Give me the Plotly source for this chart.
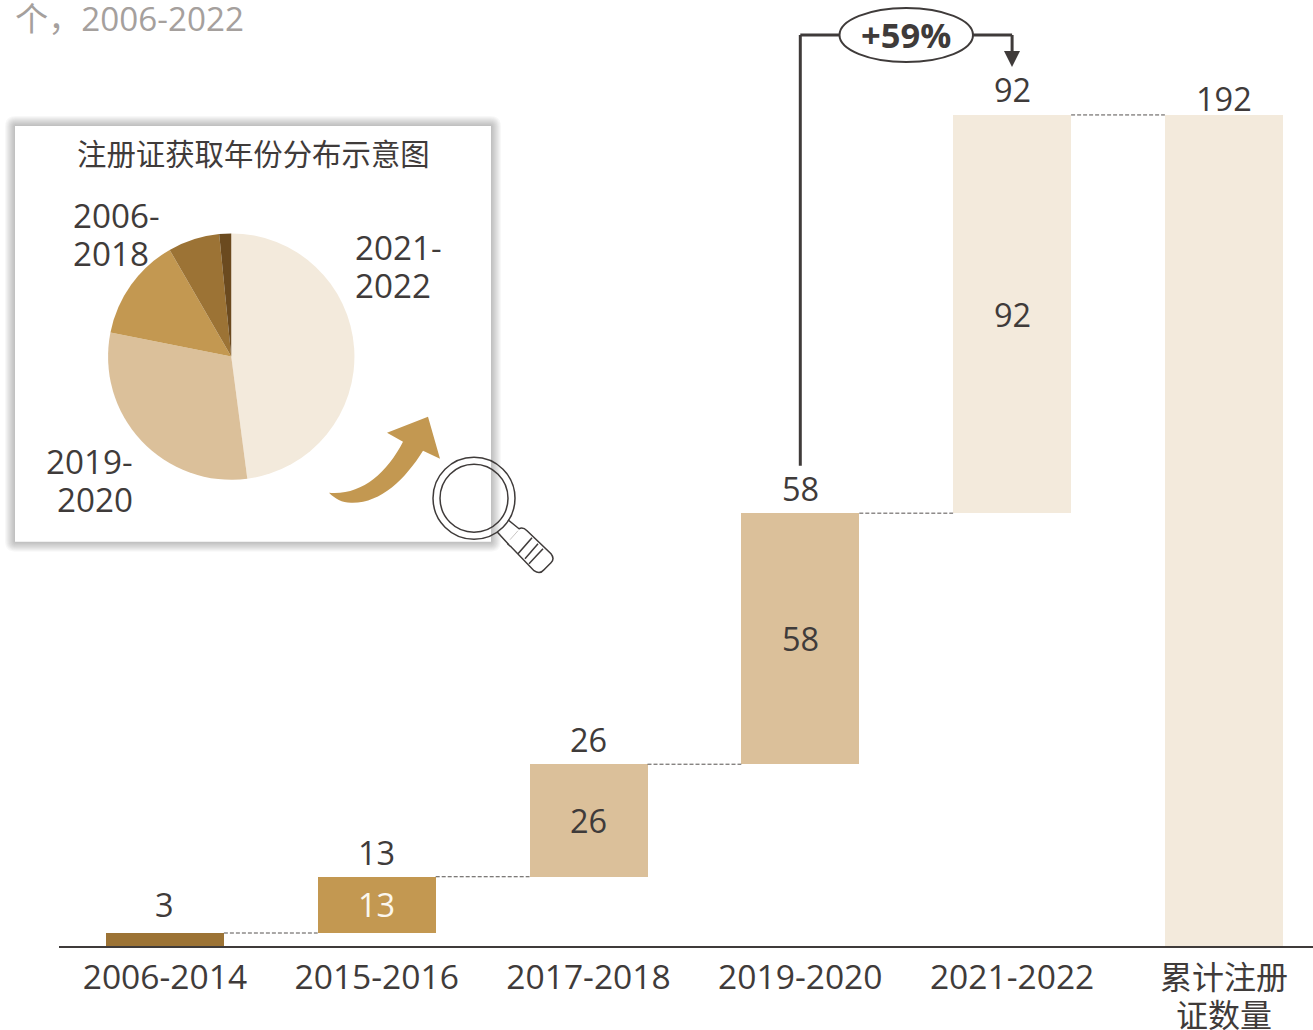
import plotly.graph_objects as go

# Waterfall data: certificates obtained per period and the running total
categories = ["2006-2014", "2015-2016", "2017-2018", "2019-2020", "2021-2022", "累计注册"]
period_values = [3, 13, 26, 58, 92]
total_value = 192
bar_colors = ["#9C7335", "#C39851", "#DBC09A", "#DBC09A", "#F3EADC", "#F3EADC"]

# Inset pie: same periods plus the small earliest slice, clockwise from 12 o'clock
pie_labels = ["2021-2022", "2019-2020", "2017-2018", "2015-2016", "2006-2014"]
pie_values = [92, 58, 26, 13, 3]
pie_colors = ["#F3EADC", "#DBC09A", "#C39851", "#9C7335", "#6B4A1F"]

INK = "#3F3B3A"
GREY = "#A5A09D"
FONT = "Open Sans, Noto Sans CJK SC, sans-serif"
CJK = "Noto Sans CJK SC, sans-serif"
SIZE = 32.5
TICK_SIZE = 33.6
LABEL_SIZE = 33.2

# Layout metrics in page pixels
W, H = 1313, 1030
LEFT, BASE = 59, 946.5
PX_PER_UNIT = 831.5 / 192
STEP = 211.8
BAR_W = 118 / STEP


def fx(x):
    return (x - LEFT) / (W - LEFT)


def fy(y):
    return (BASE - y) / BASE


def path(points, close=True):
    """SVG path in paper coordinates from (cmd, x, y, ...) tuples."""
    out = []
    for p in points:
        cmd, nums = p[0], p[1:]
        coords = [str(fx(n)) if i % 2 == 0 else str(fy(n)) for i, n in enumerate(nums)]
        out.append(cmd + " " + " ".join(coords))
    return " ".join(out) + (" Z" if close else "")


def paper_path(d, **kw):
    return dict(type="path", path=d, xref="paper", yref="paper", **kw)


def rounded_rect(x0, y0, x1, y1, r):
    return path([
        ("M", x0 + r, y0), ("L", x1 - r, y0), ("Q", x1, y0, x1, y0 + r),
        ("L", x1, y1 - r), ("Q", x1, y1, x1 - r, y1), ("L", x0 + r, y1),
        ("Q", x0, y1, x0, y1 - r), ("L", x0, y0 + r), ("Q", x0, y0, x0 + r, y0),
    ])


# Floating bars: each period sits on the sum of the previous ones
bases, tops = [], []
running = 0
for v in period_values:
    bases.append(running)
    running += v
    tops.append(running)
bar_bases = bases + [0]
bar_heights = period_values + [total_value]
x_idx = list(range(len(categories)))

# The CJK tick is set slightly smaller than the numeric ones
tick_text = categories[:-1] + ['<span style="font-size:32px">' + categories[-1] + "</span>"]

fig = go.Figure()
fig.add_trace(go.Bar(
    x=x_idx, y=bar_heights, base=bar_bases, width=BAR_W,
    marker=dict(color=bar_colors, line_width=0), hoverinfo="skip",
))
fig.add_trace(go.Pie(
    labels=pie_labels, values=pie_values, sort=False, direction="clockwise", rotation=0,
    marker=dict(colors=pie_colors, line_width=0), textinfo="none", hoverinfo="skip",
    showlegend=False,
    domain=dict(x=[fx(108), fx(354.5)], y=[fy(480), fy(233.5)]),
))

shapes = []

# Inset card with a soft shadow built up from translucent layers
PANEL = (15, 126, 491, 542)
for grow in range(10, 0, -1):
    shapes.append(paper_path(
        rounded_rect(PANEL[0] - grow, PANEL[1] - grow, PANEL[2] + grow, PANEL[3] + grow, grow + 1),
        fillcolor="rgba(70,70,70,0.04)", line_width=0, layer="below",
    ))
shapes.append(paper_path(
    path([("M", PANEL[0], PANEL[1]), ("L", PANEL[2], PANEL[1]), ("L", PANEL[2], PANEL[3]), ("L", PANEL[0], PANEL[3])]),
    fillcolor="white", line_width=0, layer="below",
))

# Dashed connectors between consecutive bar tops
for i, level in enumerate(tops):
    shapes.append(dict(
        type="line", xref="x", yref="y",
        x0=i + BAR_W / 2, x1=i + 1 - BAR_W / 2, y0=level, y1=level,
        line=dict(color="#55514F", width=1, dash="4px,2px"),
    ))

# Growth bracket from the 2019-2020 bar to the 2021-2022 bar
bracket = dict(color=INK, width=3)
shapes.append(dict(type="line", xref="x", yref="paper", x0=3, x1=3, y0=fy(466), y1=fy(35), line=bracket))
shapes.append(dict(type="line", xref="x", yref="paper", x0=3, x1=4, y0=fy(35), y1=fy(35), line=bracket))
shapes.append(dict(type="line", xref="x", yref="paper", x0=4, x1=4, y0=fy(35), y1=fy(54), line=bracket))
shapes.append(paper_path(
    path([("M", 1004, 51), ("L", 1020, 51), ("L", 1012, 67)]), fillcolor=INK, line_width=0,
))
shapes.append(dict(
    type="circle", xref="paper", yref="paper",
    x0=fx(839.5), x1=fx(973), y0=fy(62), y1=fy(8),
    fillcolor="white", line=dict(color=INK, width=2),
))

# Curved gold arrow inside the card
shapes.append(paper_path(
    path([
        ("M", 329, 493), ("C", 360, 496, 386, 475, 403, 442),
        ("L", 387, 433), ("L", 428, 417), ("L", 440, 459), ("L", 423, 451),
        ("C", 405, 480, 380, 504, 351, 503), ("C", 342, 503, 335, 499, 329, 493),
    ]),
    fillcolor="#C39851", line_width=0,
))

# Magnifying glass
glass = dict(color=INK, width=1.5)
for r in (41, 34):
    shapes.append(dict(
        type="circle", xref="paper", yref="paper",
        x0=fx(474 - r), x1=fx(474 + r), y0=fy(498.5 + r), y1=fy(498.5 - r), line=glass,
    ))
shapes.append(paper_path(
    path([
        ("M", 508, 520), ("L", 519, 529), ("Q", 523, 527, 527, 531), ("L", 551, 554),
        ("Q", 555, 559, 551, 563), ("L", 544, 570), ("Q", 540, 575, 534, 571),
        ("L", 511, 547), ("Q", 507, 544, 508, 544), ("L", 497, 532),
    ], close=False),
    line=glass,
))
for a, b, c, d in [(532, 538, 518, 554), (538, 544, 525, 559), (543, 549, 529, 564)]:
    shapes.append(paper_path(path([("M", a, b), ("L", c, d)], close=False), line=glass))
shapes.append(paper_path(path([("M", 518, 531), ("L", 510, 540)], close=False),
                         line=dict(color="#C9C6C4", width=1)))

annotations = []


def text_at(x, y, text, size=LABEL_SIZE, color=INK, anchor="center", family=FONT):
    annotations.append(dict(
        xref="paper", yref="paper", x=fx(x), y=fy(y), text=text, showarrow=False,
        xanchor=anchor, yanchor="middle", font=dict(size=size, color=color, family=family),
        borderpad=0,
    ))


# Value labels above the bars and inside them
label_lift = [29, 24, 25, 25, 25]
for i, (v, top) in enumerate(zip(period_values, tops)):
    annotations.append(dict(
        x=i, y=top, xref="x", yref="y", text=str(v), showarrow=False, yanchor="middle",
        yshift=label_lift[i], font=dict(size=SIZE, color=INK, family=FONT),
    ))
for i, (v, b) in enumerate(zip(period_values, bases)):
    if i == 0:
        continue
    annotations.append(dict(
        x=i, y=b + v / 2, xref="x", yref="y", text=str(v), showarrow=False, yanchor="middle",
        font=dict(size=SIZE, color="#FBF7EF" if i == 1 else INK, family=FONT),
    ))
annotations.append(dict(
    x=5, y=total_value, xref="x", yref="y", text=str(total_value), showarrow=False,
    yanchor="middle", yshift=16, font=dict(size=SIZE, color=INK, family=FONT),
))

# Free-standing text
text_at(14, 18.5, "个，2006-2022", color=GREY, anchor="left")
text_at(906, 35, "<b>+59%</b>", size=34.5)
text_at(253, 152, "注册证获取年份分布示意图", size=29.4, family=CJK)
text_at(71.5, 215.5, "2006-", anchor="left")
text_at(71.5, 253.5, "2018", anchor="left")
text_at(353.5, 247.5, "2021-", anchor="left")
text_at(353.5, 285.5, "2022", anchor="left")
text_at(133.5, 461.5, "2019-", anchor="right")
text_at(134, 499.5, "2020", anchor="right")
text_at(1224, 1014, "证数量", family=CJK, size=32)

fig.update_layout(
    width=W, height=H, autosize=False, showlegend=False,
    margin=dict(l=LEFT, r=0, t=0, b=H - BASE, pad=0),
    paper_bgcolor="white", plot_bgcolor="white",
    shapes=shapes, annotations=annotations,
    bargap=0,
    xaxis=dict(
        range=[-0.5, -0.5 + (W - LEFT) / STEP], tickmode="array", tickvals=x_idx, ticktext=tick_text,
        showgrid=False, zeroline=False, showline=True, linecolor=INK, linewidth=2,
        ticks="outside", ticklen=1, tickcolor="rgba(0,0,0,0)",
        tickfont=dict(size=TICK_SIZE, color=INK, family=FONT), fixedrange=True,
    ),
    yaxis=dict(range=[0, BASE / PX_PER_UNIT], visible=False, fixedrange=True),
)

fig.write_html("out.html", config=dict(displayModeBar=False))
